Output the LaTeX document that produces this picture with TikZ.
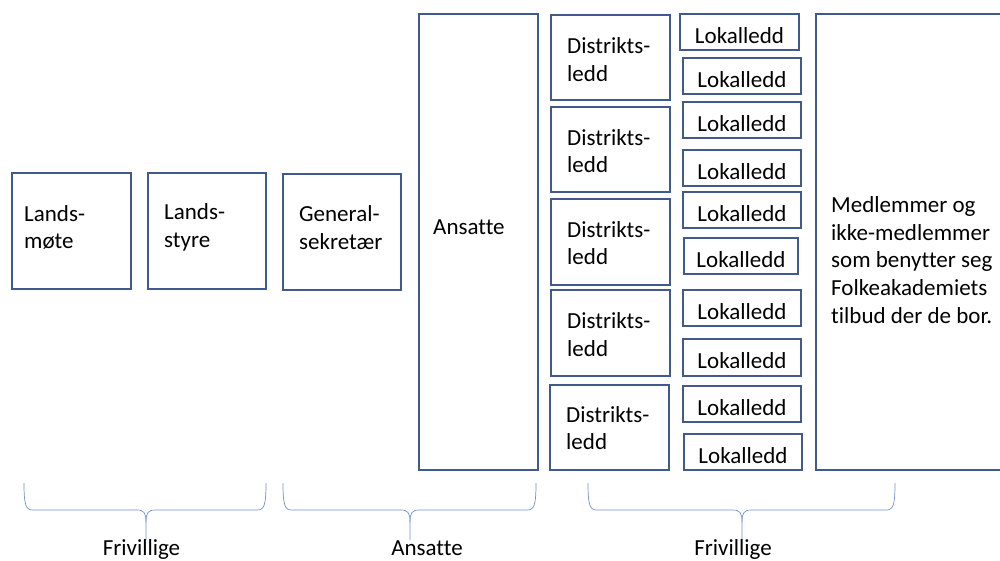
\documentclass[tikz,border=0pt]{standalone}
\usepackage{fontspec}
\setmainfont{Carlito}[Ligatures=CommonOff]
\definecolor{boxc}{HTML}{41598B}
\definecolor{bracec}{HTML}{7390C8}
\newcommand\mybrace[3]{%
  \draw[brc] (#1,483) .. controls (#1,506) and (#1+2,510) .. (#1+9,510) -- (#2-9,510) .. controls (#2-2,510) and (#2,513) .. (#2,522) -- (#2,540);
  \draw[brc] (#3,483) .. controls (#3,506) and (#3-2,510) .. (#3-9,510) -- (#2+9,510) .. controls (#2+2,510) and (#2,513) .. (#2,522);
}
\begin{document}
\begin{tikzpicture}[x=1pt,y=-1pt,
  bx/.style={draw=boxc, line width=1.2pt, inner sep=0pt, font=\fontsize{23}{27.7}\selectfont},
  lok/.style={bx, text height=22.5pt, text depth=0pt},
  txt/.style={font=\fontsize{23}{27.7}\selectfont, align=left, inner sep=0pt, anchor=west},
  brc/.style={draw=bracec, line width=0.7pt},
  lab/.style={font=\fontsize{23}{27.7}\selectfont, inner sep=0pt, anchor=base}]
\useasboundingbox (0,0) rectangle (1000,560);
\clip (0,0) rectangle (1000,560);
% left boxes
\node[bx, minimum width=119pt, minimum height=116pt] (lm) at (71.5,231) {};
\node[bx, minimum width=118pt, minimum height=116pt] (ls) at (207,231) {};
\node[bx, minimum width=118pt, minimum height=116pt] (gs) at (342,232) {};
\node[bx, minimum width=119pt, minimum height=456pt] (an) at (478.5,242) {};
\node[txt] (lmt) at (24,227.5) {Lands-\\møte};
\node[txt] (lst) at (164,227.5) {Lands-\\styre};
\node[txt] (gst) at (299,227.5) {General-\\sekretær};
\node[txt] (ant) at (433,227) {Ansatte};
% district boxes
\node[bx, minimum width=119pt, minimum height=85pt] (d1) at (610.5,57.5) {};
\node[bx, minimum width=119pt, minimum height=85pt] (d2) at (610.5,149.5) {};
\node[bx, minimum width=119pt, minimum height=86pt] (d3) at (610.5,242) {};
\node[bx, minimum width=119pt, minimum height=86pt] (d4) at (610.5,333) {};
\node[bx, minimum width=119pt, minimum height=85pt] (d5) at (609.5,427.5) {};
\node[txt] (d1t) at (567,59.5) {Distrikts-\\ledd};
\node[txt] (d2t) at (567,151) {Distrikts-\\ledd};
\node[txt] (d3t) at (567,243) {Distrikts-\\ledd};
\node[txt] (d4t) at (567,334.5) {Distrikts-\\ledd};
\node[txt] (d5t) at (566,428) {Distrikts-\\ledd};
% local boxes
\node[lok, minimum width=119pt, minimum height=36pt] (l1) at (739.5,32) {Lokalledd};
\node[lok, minimum width=118pt, minimum height=36pt] (l2) at (742,76) {Lokalledd};
\node[lok, minimum width=118pt, minimum height=36pt] (l3) at (742,120) {Lokalledd};
\node[lok, minimum width=118pt, minimum height=36pt] (l4) at (742,168) {Lokalledd};
\node[lok, minimum width=118pt, minimum height=36pt] (l5) at (742,210) {Lokalledd};
\node[lok, minimum width=114pt, minimum height=36pt] (l6) at (741,256) {Lokalledd};
\node[lok, minimum width=118pt, minimum height=36pt] (l7) at (742,308) {Lokalledd};
\node[lok, minimum width=118pt, minimum height=37pt] (l8) at (742,357.5) {Lokalledd};
\node[lok, minimum width=118pt, minimum height=36pt] (l9) at (742,404) {Lokalledd};
\node[lok, minimum width=118pt, minimum height=36pt] (l10) at (743,452) {Lokalledd};
% big box
\node[bx, minimum width=200pt, minimum height=456pt] (big) at (916,242) {};
\node[txt] (bigt) at (831,260) {Medlemmer og\\ikke-medlemmer\\som benytter seg\\Folkeakademiets\\tilbud der de bor.};
% braces
\mybrace{24}{146}{266}
\mybrace{283}{410}{536}
\mybrace{588}{742}{895}
\node[lab] (f1) at (141.5,555.5) {Frivillige};
\node[lab] (f2) at (427,555.5) {Ansatte};
\node[lab] (f3) at (733,555.5) {Frivillige};
\end{tikzpicture}
\end{document}
